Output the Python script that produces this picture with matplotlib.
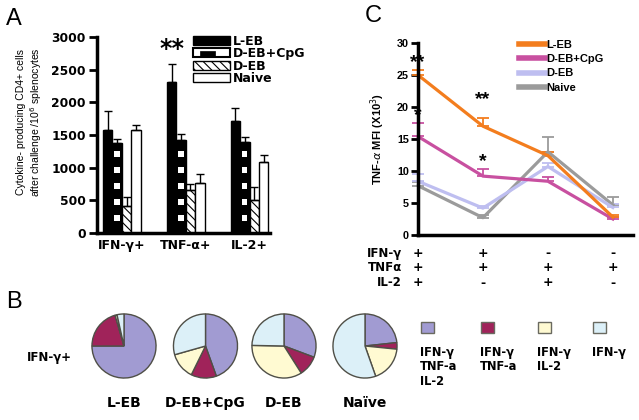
# Three-panel figure: A (grouped bars), B (pies), C (MFI lines)

import matplotlib
matplotlib.use("Agg")
import matplotlib.pyplot as plt
import numpy as np
from matplotlib.lines import Line2D
from matplotlib.patches import Rectangle

plt.rcParams["font.family"] = ["DejaVu Sans"]
plt.rcParams["hatch.linewidth"] = 0.8

# ---- panel A data: cytokine-producing CD4+ cells / 10^6 splenocytes
cytokines = ["IFN-γ+", "TNF-α+", "IL-2+"]
groups = ["L-EB", "D-EB+CpG", "D-EB", "Naive"]
leb_counts = [1580, 2310, 1720]
leb_err = [290, 280, 190]
cpg_counts = [1370, 1420, 1400]
cpg_err = [70, 90, 70]
deb_counts = [420, 660, 500]
deb_err = [130, 90, 200]
naive_counts = [1570, 770, 1080]
naive_err = [90, 130, 120]

# ---- panel B data: % of IFN-γ+ cells by co-expression subset
pie_groups = ["L-EB", "D-EB+CpG", "D-EB", "Naïve"]
subset_labels = ["IFN-γ\nTNF-a\nIL-2", "IFN-γ\nTNF-a", "IFN-γ\nIL-2", "IFN-γ"]
leb_pie = [75.0, 20.5, 1.0, 3.5]
cpg_pie = [44.5, 12.8, 13.3, 29.4]
deb_pie = [30.7, 10.3, 34.3, 24.7]
naive_pie = [23.3, 3.3, 18.0, 55.4]

# ---- panel C data: TNF-α MFI (x10^3) by cytokine combination
combo_rows = ["IFN-γ", "TNFα", "IL-2"]
combo_signs = [["+", "+", "-", "-"],
               ["+", "+", "+", "+"],
               ["+", "-", "+", "-"]]
leb_mfi = [25.0, 17.0, 12.4, 2.8]
leb_mfi_err = [0.8, 1.3, 0.5, 0.4]
cpg_mfi = [15.4, 9.2, 8.4, 2.5]
cpg_mfi_err = [2.1, 1.1, 0.7, 0.3]
deb_mfi = [8.4, 4.2, 10.7, 4.3]
deb_mfi_err = [1.1, 0.3, 0.5, 0.6]
naive_mfi = [7.7, 2.7, 13.0, 4.7]
naive_mfi_err = [0.6, 0.5, 2.3, 1.2]
# significance marks: (combination index, y, text)
c_marks = [(0, 26.9, "**"), (0, 18.6, "*"), (1, 21.2, "**"), (1, 11.5, "*")]

W, H = 639, 420
fig = plt.figure(figsize=(W / 100, H / 100), dpi=100)


def px_axes(left, top, right, bottom):
    return fig.add_axes([left / W, 1 - bottom / H, (right - left) / W, (bottom - top) / H])


class CpGHandler:
    # white box with a black block, like the original legend key
    def legend_artist(self, legend, orig_handle, fontsize, handlebox):
        x0, y0 = handlebox.xdescent, handlebox.ydescent
        w, h = handlebox.width, handlebox.height
        tr = handlebox.get_transform()
        outer = Rectangle((x0, y0), w, h, facecolor="white", edgecolor="black", lw=1.5, transform=tr)
        inner = Rectangle((x0 + 0.2 * w, y0), 0.4 * w, 0.7 * h, facecolor="black", edgecolor="black",
                          lw=0.5, transform=tr)
        handlebox.add_artist(outer)
        handlebox.add_artist(inner)
        return outer


# =================== panel A ===================
axA = px_axes(97, 37, 270, 233)
x = np.arange(len(cytokines))
w = 0.148
offsets = np.array([-1.5, -0.5, 0.5, 1.5]) * w

series = [
    (leb_counts, leb_err, dict(facecolor="black", edgecolor="black")),
    (cpg_counts, cpg_err, dict(facecolor="black", edgecolor="black")),
    (deb_counts, deb_err, dict(facecolor="white", edgecolor="black", hatch="\\\\\\\\")),
    (naive_counts, naive_err, dict(facecolor="white", edgecolor="black")),
]
bar_sets = []
for (vals, err, style), off in zip(series, offsets):
    bars = axA.bar(x + off, vals, w, linewidth=1, zorder=2, **style)
    axA.errorbar(x + off, vals, yerr=[np.zeros(len(vals)), err], fmt="none", ecolor="black",
                 elinewidth=1, capsize=3, capthick=1, zorder=3)
    bar_sets.append(bars)

# checker pattern of the D-EB+CpG bars
px2val = 3000 / 196.0
for b in bar_sets[1]:
    bx, bw, bh = b.get_x(), b.get_width(), b.get_height()
    y0 = 12 * px2val
    while y0 + 6 * px2val < bh - 3 * px2val:
        axA.add_patch(Rectangle((bx + 0.17 * bw, y0), 0.6 * bw, 6 * px2val, facecolor="white",
                                edgecolor="none", zorder=2.5))
        y0 += 16 * px2val

axA.set_xlim(-0.39, 2.32)
axA.set_ylim(0, 3000)
axA.set_yticks(np.arange(0, 3001, 500))
axA.set_xticks(x)
axA.set_xticklabels(cytokines, fontsize=9, fontweight="bold")
for lab in axA.get_yticklabels():
    lab.set_fontweight("bold")
axA.tick_params(axis="y", direction="out", length=6, width=2, labelsize=8.8, pad=2)
axA.tick_params(axis="x", length=0, pad=4)
for s in ["top", "right"]:
    axA.spines[s].set_visible(False)
for s in ["left", "bottom"]:
    axA.spines[s].set_linewidth(2.5)
axA.text(x[1] + offsets[0], leb_counts[1] + leb_err[1] + 230, "**", ha="center", va="center",
         fontsize=17, fontweight="bold")

handlesA = [Rectangle((0, 0), 1, 1, facecolor="black", edgecolor="black"),
            Rectangle((0, 0), 1, 1, facecolor="white", edgecolor="black"),
            Rectangle((0, 0), 1, 1, facecolor="white", edgecolor="black", hatch="\\\\\\\\"),
            Rectangle((0, 0), 1, 1, facecolor="white", edgecolor="black", lw=1)]
axA.legend(handlesA, groups, handler_map={handlesA[1]: CpGHandler()}, loc="upper left",
           bbox_to_anchor=(193 / W, 1 - 35 / H), bbox_transform=fig.transFigure, frameon=False,
           borderpad=0, borderaxespad=0, handlelength=2.95, handleheight=0.75, handletextpad=0.25,
           labelspacing=-0.05, prop=dict(weight="bold", size=9))

fig.text(30 / W, 1 - 122 / H, "Cytokine- producing CD4+ cells\nafter challenge /10$^6$ splenocytes",
         rotation=90, ha="center", va="center", fontsize=7.5, family="Liberation Sans",
         linespacing=1.15)
fig.text(6 / W, 1 - 8 / H, "A", fontsize=17, family="Liberation Sans", va="top")

# =================== panel C ===================
axC = px_axes(418, 43, 633, 235)
xc = np.arange(4)
line_series = [
    ("Naive", naive_mfi, naive_mfi_err, "#9b9b9b"),
    ("D-EB", deb_mfi, deb_mfi_err, "#bebef0"),
    ("D-EB+CpG", cpg_mfi, cpg_mfi_err, "#c850a0"),
    ("L-EB", leb_mfi, leb_mfi_err, "#f37d1e"),
]
for name, vals, err, col in line_series:
    axC.errorbar(xc, vals, yerr=[np.zeros(4), err], color=col, lw=2.3, elinewidth=1.3,
                 capsize=4, capthick=1.3, clip_on=False)
axC.set_xlim(0, 3.31)
axC.set_ylim(0, 30)
axC.set_yticks(np.arange(0, 31, 5))
axC.set_xticks([])
for s in ["top", "right"]:
    axC.spines[s].set_visible(False)
for s in ["left", "bottom"]:
    axC.spines[s].set_linewidth(2.5)
axC.tick_params(axis="y", direction="out", length=5, width=2, labelsize=7.8, pad=1.5)
for lab in axC.get_yticklabels():
    lab.set_fontweight("bold")
    lab.set_family("Liberation Sans")
for xi, yv, txt in c_marks:
    axC.text(xi, yv, txt, ha="center", va="center", fontsize=14, fontweight="bold",
             family="Liberation Sans")
axC.set_ylabel("TNF-$\\alpha$ MFI (X10$^3$)", fontsize=8, fontweight="bold",
               family="Liberation Sans", labelpad=7)

row_y = [-0.094, -0.167, -0.25]
for r, (rname, signs) in enumerate(zip(combo_rows, combo_signs)):
    axC.text(-0.25, row_y[r], rname, transform=axC.get_xaxis_transform(), ha="right",
             va="center", fontsize=8.5, fontweight="bold")
    for xi, sgn in zip(xc, signs):
        axC.text(xi, row_y[r], sgn, transform=axC.get_xaxis_transform(), ha="center",
                 va="center", fontsize=9, fontweight="bold")

handlesC = [Line2D([0], [0], color=col, lw=4) for _, _, _, col in line_series[::-1]]
labelsC = [name for name, _, _, _ in line_series[::-1]]
axC.legend(handlesC, labelsC, loc="upper left", bbox_to_anchor=(519 / W, 1 - 40 / H),
           bbox_transform=fig.transFigure, frameon=False, borderpad=0, borderaxespad=0,
           handlelength=2.3, handletextpad=0.15, labelspacing=0.38,
           prop=dict(weight="bold", size=8, family="Liberation Sans"))
fig.text(365 / W, 1 - 5 / H, "C", fontsize=17, family="Liberation Sans", va="top")

# =================== panel B ===================
subset_colors = ["#a19bd2", "#a0235a", "#fffad2", "#dcf0f8"]
pie_values = [leb_pie, cpg_pie, deb_pie, naive_pie]
pie_centers = [124, 205.5, 284, 365]
for cx, name, vals in zip(pie_centers, pie_groups, pie_values):
    axP = px_axes(cx - 33, 313, cx + 33, 379)
    axP.pie(vals, colors=subset_colors, startangle=90, counterclock=False,
            wedgeprops=dict(edgecolor="#4f4f47", linewidth=1))
    axP.set_xlim(-1.03, 1.03)
    axP.set_ylim(-1.03, 1.03)
    axP.set_aspect("auto")
    fig.text(cx / W, 1 - 403 / H, name, ha="center", va="center", fontsize=10, fontweight="bold")

fig.text(49 / W, 1 - 358 / H, "IFN-γ+", ha="center", va="center", fontsize=8.5, fontweight="bold")
fig.text(6 / W, 1 - 291 / H, "B", fontsize=17, family="Liberation Sans", va="top")

key_x = [421, 481, 538, 593]
for kx, col, lab in zip(key_x, subset_colors, subset_labels):
    fig.add_artist(Rectangle((kx / W, 1 - 333 / H), 13 / W, 11 / H, facecolor=col,
                             edgecolor="#6a6a60", lw=1, transform=fig.transFigure))
    fig.text((kx - 1) / W, 1 - 346 / H, lab, ha="left", va="top", fontsize=8.3,
             fontweight="bold", linespacing=1.15)

fig.savefig("out.png", dpi=100)
